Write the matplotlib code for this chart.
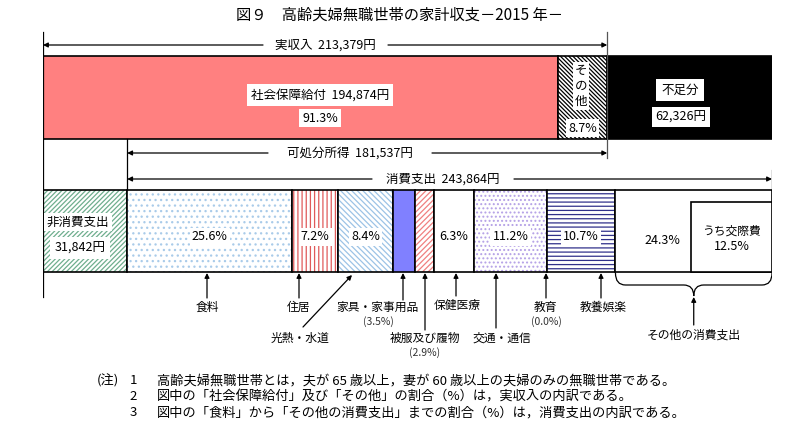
import numpy as np
import matplotlib
matplotlib.use("Agg")
import matplotlib.pyplot as plt
from matplotlib.path import Path
from matplotlib.patches import PathPatch

plt.rcParams['font.family'] = ['Noto Sans CJK JP', 'DejaVu Sans']
plt.rcParams['hatch.linewidth'] = 0.9

# --- data: 高齢夫婦無職世帯の家計収支 (円/月, 2015年) ---
real_income = 213379
income_labels = ['社会保障給付', 'その他']
income_values = [194874, 18505]
income_pct = [91.3, 8.7]
deficit = 62326
disposable = 181537
non_consumption = 31842
consumption = 243864

cons_labels = ['食料', '住居', '光熱・水道', '家具・家事用品', '被服及び履物',
               '保健医療', '交通・通信', '教育', '教養娯楽', 'その他の消費支出']
cons_pct = [25.6, 7.2, 8.4, 3.5, 2.9, 6.3, 11.2, 0.0, 10.7, 24.3]
social_pct = 12.5  # うち交際費

# styles per consumption segment: (face, hatch, hatch colour)
cons_style = [
    ('white', '...', '#a9cbe9'),
    ('white', '||||', '#e05a5a'),
    ('white', '\\' * 6, '#9cc3e6'),
    ('#8080ff', None, None),
    ('white', '/' * 6, '#f08080'),
    ('white', None, None),
    ('white', '....', '#b4a0e6'),
    ('white', None, None),
    ('white', '----', '#30308a'),
    ('white', None, None),
]

W, H = 800, 445
total = non_consumption + consumption
fig = plt.figure(figsize=(W / 100, H / 100), dpi=100)
x_left, x_right = 43, 772
ax = fig.add_axes([x_left / W, 0, (x_right - x_left) / W, 1])
ax.set_xlim(0, total)
ax.set_ylim(H, 0)
ax.axis('off')


def px(x):
    # pixel column -> yen coordinate (for text placement only)
    return (x - x_left) / (x_right - x_left) * total


def seg(left, width, top, height, face, hatch=None, hcol=None, lw=1.2):
    ax.barh(top + height / 2, width, left=left, height=height, color=face,
            edgecolor=hcol if hatch else 'none', hatch=hatch, linewidth=0)
    ax.barh(top + height / 2, width, left=left, height=height, fill=False,
            edgecolor='black', linewidth=lw)


box = dict(facecolor='white', edgecolor='none', pad=2)
fs = 9

# --- top bar: income ---
top_y, top_h = 56, 83
seg(0, income_values[0], top_y, top_h, '#ff8080')
seg(income_values[0], income_values[1], top_y, top_h, 'white', '\\' * 8, 'black')
seg(real_income, deficit, top_y, top_h, 'black')

ax.text(px(320), 95, f'{income_labels[0]}  {income_values[0]:,}円', ha='center',
        va='center', fontsize=fs, bbox=dict(facecolor='white', edgecolor='none', pad=3))
ax.text(px(320), 118, f'{income_pct[0]}%', ha='center', va='center', fontsize=fs, bbox=box)
ax.text(px(581), 86, 'そ\nの\n他', ha='center', va='center', fontsize=fs,
        linespacing=1.25, bbox=dict(facecolor='white', edgecolor='none', pad=1.5))
ax.text(px(583), 128, f'{income_pct[1]}%', ha='center', va='center', fontsize=fs,
        bbox=dict(facecolor='white', edgecolor='none', pad=1.5))
ax.text(px(680), 90, '不足分', ha='center', va='center', fontsize=fs,
        bbox=dict(facecolor='white', edgecolor='none', pad=3.5))
ax.text(px(681), 117, f'{deficit:,}円', ha='center', va='center', fontsize=fs,
        bbox=dict(facecolor='white', edgecolor='none', pad=2.5))

# --- bottom bar: expenditure ---
bot_y, bot_h = 190, 82
seg(0, non_consumption, bot_y, bot_h, 'white', '/' * 7, '#6fae8e')
ax.text(px(78), 222, '非消費支出', ha='center', va='center', fontsize=fs, bbox=box)
ax.text(px(80), 248, f'{non_consumption:,}円', ha='center', va='center', fontsize=fs,
        bbox=dict(facecolor='white', edgecolor='none', pad=3))

pct = np.array(cons_pct)
widths = consumption * pct / pct.sum()
lefts = non_consumption + np.concatenate([[0], np.cumsum(widths)[:-1]])
for i, (l, w) in enumerate(zip(lefts, widths)):
    face, hatch, hcol = cons_style[i]
    if w > 0:
        seg(l, w, bot_y, bot_h, face, hatch, hcol)

show_inside = [0, 1, 2, 5, 6, 8]
for i in show_inside:
    ax.text(lefts[i] + widths[i] / 2, 237, f'{cons_pct[i]}%', ha='center', va='center',
            fontsize=fs, bbox=dict(facecolor='white', edgecolor='none', pad=1.5))

# その他の消費支出 and its うち交際費 box
sub_w = consumption * social_pct / 100
sub_left = total - sub_w
seg(sub_left, sub_w, 202, bot_y + bot_h - 202, 'white')
ax.text((lefts[9] + sub_left) / 2 + px(52) - px(43), 240, f'{cons_pct[9]}%', ha='center',
        va='center', fontsize=fs)
ax.text(sub_left + sub_w / 2, 231, 'うち交際費', ha='center', va='center', fontsize=8.5)
ax.text(sub_left + sub_w / 2, 247, f'{social_pct}%', ha='center', va='center', fontsize=fs)

# --- guide lines & double arrows ---
lk = dict(color='black', linewidth=0.9)
ax.plot([0, 0], [32, 297], **lk)
ax.plot([real_income, real_income], [32, 158], color='#555555', linewidth=0.9)
ax.plot([non_consumption, non_consumption], [139, 190], **lk)
ax.plot([total, total], [170, 190], **lk)

arr = dict(arrowstyle='-|>', color='black', lw=0.9, mutation_scale=7,
           shrinkA=0, shrinkB=0)


def span(x0, x1, y, text, tx0, tx1, tcx):
    ax.annotate('', xy=(x0, y), xytext=(px(tx0), y), arrowprops=arr)
    ax.annotate('', xy=(x1, y), xytext=(px(tx1), y), arrowprops=arr)
    ax.text(px(tcx), y, text, ha='center', va='center', fontsize=fs)


span(0, real_income, 45, f'実収入  {real_income:,}円', 263, 388, 325)
span(non_consumption, real_income, 153, f'可処分所得  {disposable:,}円', 268, 432, 350)
span(non_consumption, total, 179, f'消費支出  {consumption:,}円', 372, 514, 443)

# --- labels under the expenditure bar ---
lab_fs = 8.5
# (label index, arrow x, arrow tail y, text x, text y)
under = [
    (0, 207, 298, 207, 307),
    (1, 299, 298, 299, 307),
    (3, 403, 300, 378, 307),
    (4, 425, 330, 425, 338),
    (5, 456, 296, 457, 305),
    (6, 496, 328, 502, 338),
    (7, 546, 298, 546, 307),
    (8, 601, 298, 603, 307),
]
for i, ax_x, tail, tx, ty in under:
    ax.annotate('', xy=(px(ax_x), 273), xytext=(px(ax_x), tail), arrowprops=arr)
    ax.text(px(tx), ty, cons_labels[i], ha='center', va='center', fontsize=lab_fs)
    if i in (3, 4, 7):
        ax.text(px(tx), ty + 15, f'({cons_pct[i]}%)', ha='center', va='center',
                fontsize=7.5, color='#333333')

# 光熱・水道 with diagonal arrow
ax.annotate('', xy=(px(352), 275), xytext=(px(303), 327), arrowprops=arr)
ax.text(px(300), 338, cons_labels[2], ha='center', va='center', fontsize=lab_fs)

# brace under その他の消費支出
b0, b1 = lefts[9], total
bm = (b0 + b1) / 2
d = px(53) - px(43)
verts = [(b0, 273), (b0, 285), (b0 + d, 285), (bm - d, 285), (bm, 285), (bm, 296),
         (bm, 285), (bm + d, 285), (b1 - d, 285), (b1, 285), (b1, 273)]
codes = [Path.MOVETO, Path.CURVE3, Path.CURVE3, Path.LINETO, Path.CURVE3, Path.CURVE3,
         Path.CURVE3, Path.CURVE3, Path.LINETO, Path.CURVE3, Path.CURVE3]
ax.add_patch(PathPatch(Path(verts, codes), fill=False, edgecolor='black', linewidth=0.9))
ax.annotate('', xy=(bm, 297), xytext=(bm, 325), arrowprops=arr)
ax.text(bm, 335, cons_labels[9], ha='center', va='center', fontsize=lab_fs)

# --- title ---
fig.text(0.5, 1 - 15 / H, '図９　高齢夫婦無職世帯の家計収支－2015 年－', ha='center',
         va='center', fontsize=11)

# --- notes ---
notes = [
    '高齢夫婦無職世帯とは，夫が 65 歳以上，妻が 60 歳以上の夫婦のみの無職世帯である。',
    '図中の「社会保障給付」及び「その他」の割合（%）は，実収入の内訳である。',
    '図中の「食料」から「その他の消費支出」までの割合（%）は，消費支出の内訳である。',
]
fig.text(97 / W, 1 - 381 / H, '(注)', ha='left', va='center', fontsize=9.5)
for k, note in enumerate(notes):
    y = 1 - (381 + 16 * k) / H
    fig.text(133 / W, y, str(k + 1), ha='center', va='center', fontsize=9.5)
    fig.text(157 / W, y, note, ha='left', va='center', fontsize=9.5)

fig.savefig('out.png', dpi=100)
